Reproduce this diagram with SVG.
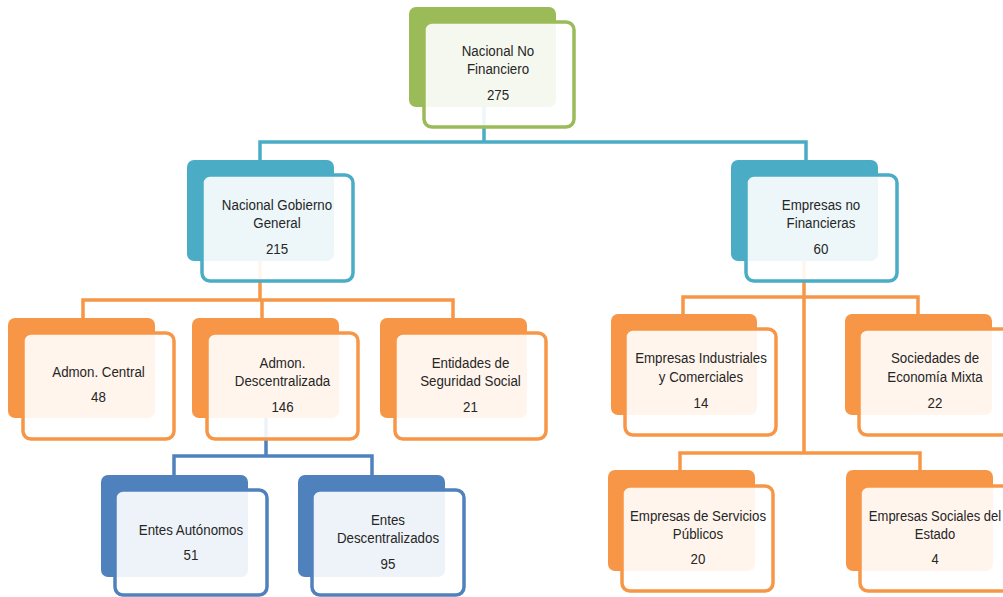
<svg xmlns="http://www.w3.org/2000/svg" width="1003" height="597" viewBox="0 0 1003 597">
<style>
.bk{stroke:none}
.fr{fill:#ffffff;fill-opacity:0.9;stroke-width:3.5}
.g .bk{fill:#9bbb59}.g .fr{stroke:#9bbb59}
.t .bk{fill:#4bacc6}.t .fr{stroke:#4bacc6}
.o .bk{fill:#f79646}.o .fr{stroke:#f79646}
.b .bk{fill:#4f81bd}.b .fr{stroke:#4f81bd}
text{font-family:"Liberation Sans",Arial,sans-serif;font-size:15.5px;fill:#262626;text-anchor:middle}
.cn path{fill:none;stroke-width:3.5;stroke-linejoin:miter}
</style>
<rect width="1003" height="597" fill="#ffffff"/>
<g id="connectors" class="cn">
<path d="M484 107V142M260 160V142H806V160" stroke="#4bacc6"/>
<path d="M260 261V300M83 318V300H453V318M262 300V318" stroke="#f79646"/>
<path d="M266 418V456M174 475V456H372V475" stroke="#4f81bd"/>
<path d="M804 261V453M683 314V297H918V314M680 470V453H920V470" stroke="#f79646"/>
</g>
<g id="n-top" class="g">
<rect class="bk" x="409" y="7" width="147" height="100" rx="7"/>
<rect class="fr" x="424" y="22" width="150" height="105" rx="8"/>
<g transform="translate(498 0) scale(0.86 1)"><text x="0" y="56.5">Nacional No</text><text x="0" y="74.5">Financiero</text><text x="0" y="100.5">275</text></g>
</g>
<g id="n-ngg" class="t">
<rect class="bk" x="187" y="160" width="147" height="101" rx="7"/>
<rect class="fr" x="202" y="175" width="151" height="106" rx="8"/>
<g transform="translate(277 0) scale(0.86 1)"><text x="0" y="210">Nacional Gobierno</text><text x="0" y="228">General</text><text x="0" y="254">215</text></g>
</g>
<g id="n-enf" class="t">
<rect class="bk" x="731" y="160" width="147" height="101" rx="7"/>
<rect class="fr" x="746" y="175" width="151" height="106" rx="8"/>
<g transform="translate(821 0) scale(0.86 1)"><text x="0" y="210">Empresas no</text><text x="0" y="228">Financieras</text><text x="0" y="254">60</text></g>
</g>
<g id="n-ac" class="o">
<rect class="bk" x="8" y="318" width="147" height="100" rx="7"/>
<rect class="fr" x="23" y="333" width="151" height="106" rx="8"/>
<g transform="translate(98.5 0) scale(0.86 1)"><text x="0" y="377">Admon. Central</text><text x="0" y="402">48</text></g>
</g>
<g id="n-ad" class="o">
<rect class="bk" x="192" y="318" width="147" height="100" rx="7"/>
<rect class="fr" x="207" y="333" width="151" height="106" rx="8"/>
<g transform="translate(282.5 0) scale(0.86 1)"><text x="0" y="368">Admon.</text><text x="0" y="386">Descentralizada</text><text x="0" y="412">146</text></g>
</g>
<g id="n-ess" class="o">
<rect class="bk" x="380" y="318" width="147" height="100" rx="7"/>
<rect class="fr" x="395" y="333" width="151" height="106" rx="8"/>
<g transform="translate(470.5 0) scale(0.86 1)"><text x="0" y="368">Entidades de</text><text x="0" y="386">Seguridad Social</text><text x="0" y="412">21</text></g>
</g>
<g id="n-ea" class="b">
<rect class="bk" x="101" y="475" width="147" height="102" rx="7"/>
<rect class="fr" x="115" y="490" width="152" height="105" rx="8"/>
<g transform="translate(191 0) scale(0.86 1)"><text x="0" y="535.5">Entes Autónomos</text><text x="0" y="560">51</text></g>
</g>
<g id="n-ed" class="b">
<rect class="bk" x="298" y="475" width="147" height="102" rx="7"/>
<rect class="fr" x="312" y="490" width="152" height="105" rx="8"/>
<g transform="translate(388 0) scale(0.86 1)"><text x="0" y="525">Entes</text><text x="0" y="543">Descentralizados</text><text x="0" y="569">95</text></g>
</g>
<g id="n-eic" class="o">
<rect class="bk" x="611" y="314" width="146" height="101" rx="7"/>
<rect class="fr" x="625" y="329" width="151" height="106" rx="8"/>
<g transform="translate(701 0) scale(0.86 1)"><text x="0" y="363">Empresas Industriales</text><text x="0" y="382">y Comerciales</text><text x="0" y="408">14</text></g>
</g>
<g id="n-sem" class="o">
<rect class="bk" x="845" y="314" width="147" height="101" rx="7"/>
<rect class="fr" x="859" y="329" width="151" height="106" rx="8"/>
<g transform="translate(935 0) scale(0.86 1)"><text x="0" y="363">Sociedades de</text><text x="0" y="382">Economía Mixta</text><text x="0" y="408">22</text></g>
</g>
<g id="n-esp" class="o">
<rect class="bk" x="608" y="470" width="147" height="101" rx="7"/>
<rect class="fr" x="622" y="486" width="151" height="105" rx="8"/>
<g transform="translate(698 0) scale(0.86 1)"><text x="0" y="521">Empresas de Servicios</text><text x="0" y="539">Públicos</text><text x="0" y="564">20</text></g>
</g>
<g id="n-ese" class="o">
<rect class="bk" x="846" y="470" width="147" height="101" rx="7"/>
<rect class="fr" x="860" y="486" width="151" height="105" rx="8"/>
<g transform="translate(935 0) scale(0.84 1)"><text x="0" y="521">Empresas Sociales del</text><text x="0" y="539">Estado</text><text x="0" y="564">4</text></g>
</g>
</svg>
